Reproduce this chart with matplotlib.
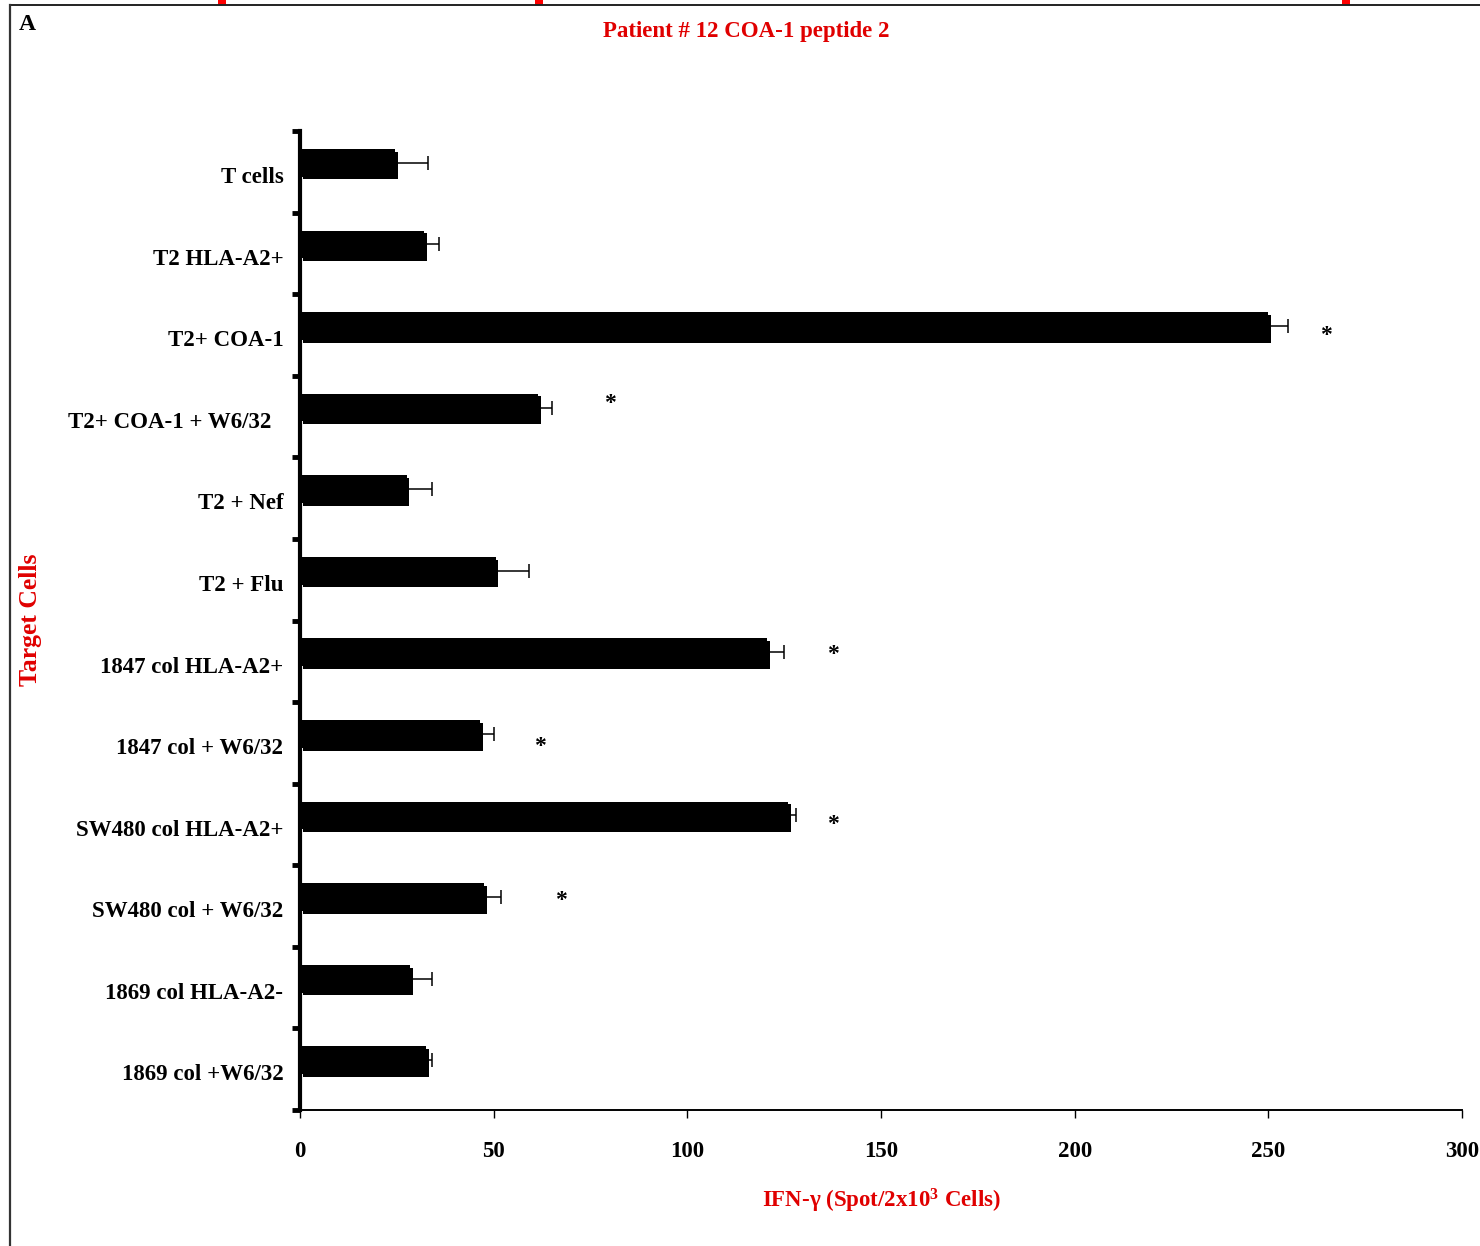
import numpy as np
import matplotlib
matplotlib.use("Agg")
import matplotlib.pyplot as plt
import matplotlib.patheffects as pe
from matplotlib.lines import Line2D
from matplotlib.patches import Rectangle

plt.rcParams['font.family'] = ['Liberation Serif', 'DejaVu Serif']
plt.rcParams['font.weight'] = 'bold'
plt.rcParams['mathtext.fontset'] = 'custom'
plt.rcParams['mathtext.rm'] = 'Liberation Serif:bold'
plt.rcParams['mathtext.bf'] = 'Liberation Serif:bold'
plt.rcParams['mathtext.default'] = 'bf'

# ELISPOT data: IFN-gamma spots per 2x10^3 cells
targets = ["T cells", "T2 HLA-A2+", "T2+ COA-1", "T2+ COA-1 + W6/32  ",
           "T2 + Nef", "T2 + Flu", "1847 col HLA-A2+", "1847 col + W6/32",
           "SW480 col HLA-A2+", "SW480 col + W6/32", "1869 col HLA-A2-",
           "1869 col +W6/32"]
spots = [24.5, 32, 250, 61.5, 27.5, 50.5, 120.5, 46.5, 126, 47.5, 28.5, 32.5]
spots_err = [8.5, 4, 5, 3.5, 6.5, 8.5, 4.5, 3.5, 2, 4.5, 5.5, 1.5]

# significance markers: (row index, x position, vertical offset in rows)
star_rows = [2, 3, 6, 7, 8, 9]
star_x = [265, 80, 137.5, 62, 137.5, 67.5]
star_dy = [0.12, -0.05, 0.03, 0.15, 0.11, 0.04]

title = "Patient # 12 COA-1 peptide 2"
xlabel = "IFN-\u03b3 (Spot/2x10$^{3}$ Cells)"
ylabel = "Target Cells"
xticks = [0, 50, 100, 150, 200, 250, 300]

W, H = 1480, 1246
fig = plt.figure(figsize=(W / 100, H / 100), dpi=100)
ax = fig.add_axes([300 / W, (H - 1110) / H, (1462 - 300) / W, (1110 - 131) / H])

n = len(targets)
ypos = np.arange(n)
bar_y = ypos - 0.11
red = '#e00000'

bars = ax.barh(bar_y, spots, height=0.34, color='black', zorder=3)
for b in bars:
    b.set_path_effects([pe.SimplePatchShadow(offset=(2, -2), shadow_rgbFace='black', alpha=1.0),
                        pe.Normal()])
ax.errorbar(spots, bar_y, xerr=[np.zeros(n), spots_err], fmt='none',
            ecolor='black', elinewidth=1.1, capsize=5, capthick=1.1, zorder=4)

for r, sx, dy in zip(star_rows, star_x, star_dy):
    ax.text(sx, bar_y[r] + dy, "*", ha='center', va='center', fontsize=17,
            fontweight='bold', color='black')

ax.set_xlim(0, 300)
ax.set_ylim(n - 0.5, -0.5)

ax.set_xticks(xticks)
ax.set_xticklabels([str(t) for t in xticks], fontsize=16.5, fontweight='bold')
ax.tick_params(axis='x', direction='out', length=6, width=1, pad=16)

ax.set_yticks(np.arange(-0.5, n, 1.0))
ax.set_yticklabels([])
ax.tick_params(axis='y', which='major', direction='out', length=6, width=3.5)
ax.set_yticks(ypos + 0.04, minor=True)
ax.set_yticklabels(targets, minor=True, fontsize=16.5, fontweight='bold')
ax.tick_params(axis='y', which='minor', length=0, pad=12)

for s in ['top', 'right']:
    ax.spines[s].set_visible(False)
ax.spines['left'].set_linewidth(3.0)
ax.spines['bottom'].set_linewidth(1.4)

ax.set_xlabel(xlabel, color=red, fontsize=16.5, fontweight='bold', labelpad=18)
fig.text(30 / W, 1 - 620 / H, ylabel, rotation=90, ha='center', va='center',
         color=red, fontsize=18.5, fontweight='bold')

fig.text(746 / W, 1 - 31 / H, title, ha='center', va='center', color=red,
         fontsize=16.5, fontweight='bold')
fig.text(27 / W, 1 - 24 / H, "A", ha='center', va='center', color='black',
         fontsize=17, fontweight='bold')

# outer frame
fig.add_artist(Line2D([10 / W, 1], [1 - 5 / H, 1 - 5 / H], transform=fig.transFigure,
                      color='#222222', lw=1.4))
fig.add_artist(Line2D([10 / W, 10 / W], [0, 1 - 5 / H], transform=fig.transFigure,
                      color='#333333', lw=1.6))
for mx in [218, 535, 1342]:
    fig.add_artist(Rectangle((mx / W, 1 - 5 / H), 8 / W, 5 / H, transform=fig.transFigure,
                             facecolor='#ff0000', edgecolor='none'))

fig.savefig("out.png", dpi=100)
